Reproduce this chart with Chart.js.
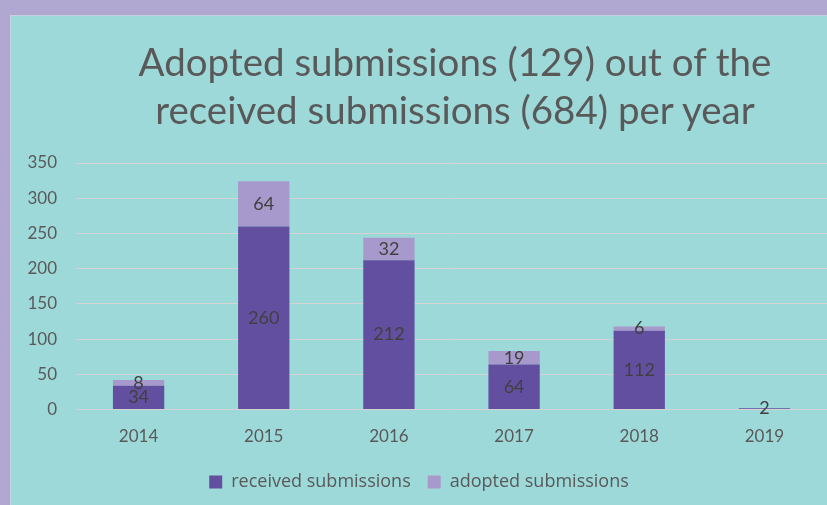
<!DOCTYPE html>
<html>
<head>
<meta charset="utf-8">
<script src="https://cdn.jsdelivr.net/npm/chart.js@4.4.1/dist/chart.umd.min.js"></script>
<style>
  html, body { margin: 0; padding: 0; background: #b1a8d1; overflow: hidden; }
  #panel {
    position: absolute; left: 10px; top: 15px; width: 817px; height: 490px;
    background: #9ed9d9; border-left: 1px solid #c8cfe0; border-top: 1px solid #c8cfe0;
  }
  #title {
    position: absolute; left: 0; top: 21px; width: 888px; text-align: center;
    font-family: Lato, "Open Sans", sans-serif; font-size: 38.5px; line-height: 48px; color: #595959;
  }
  #chart { display: block; position: absolute; left: 0; top: 0; }
</style>
</head>
<body>
<div id="panel">
  <canvas id="chart" width="817" height="490"></canvas>
  <div id="title">Adopted submissions (129) out of the<br>received submissions (684) per year</div>
</div>
<script>
var years = ['2014', '2015', '2016', '2017', '2018', '2019'];
var received = [34, 260, 212, 64, 112, 2];
var adopted = [8, 64, 32, 19, 6, 0];
var yTicks = { min: 0, max: 350, step: 50 };

// draws the value in the middle of each segment
var barLabels = {
    id: 'barLabels',
    afterDatasetsDraw: function(chart) {
        var ctx = chart.ctx;
        ctx.save();
        ctx.font = '18px Lato, "Open Sans", sans-serif';
        ctx.fillStyle = '#404040';
        ctx.textAlign = 'center';
        ctx.textBaseline = 'middle';
        chart.data.datasets.forEach(function(ds, i) {
            var meta = chart.getDatasetMeta(i);
            meta.data.forEach(function(bar, j) {
                var v = ds.data[j];
                if (!v) return;
                ctx.fillText(String(v), bar.x, (bar.y + bar.base) / 2);
            });
        });
        ctx.restore();
    }
};

new Chart(document.getElementById('chart'), {
    type: 'bar',
    data: {
        labels: years,
        datasets: [
            { label: 'received submissions', data: received, backgroundColor: '#634fa0', borderWidth: 0 },
            { label: 'adopted submissions', data: adopted, backgroundColor: '#a899cc', borderWidth: 0 }
        ]
    },
    options: {
        responsive: false,
        animation: false,
        layout: { padding: { left: 0, right: 1, top: 147, bottom: 5 } },
        datasets: { bar: { categoryPercentage: 1, barPercentage: 0.41 } },
        plugins: {
            title: { display: false },
            legend: {
                position: 'bottom',
                labels: {
                    color: '#595959', boxWidth: 13, boxHeight: 13, padding: 17,
                    font: { family: '"Open Sans", sans-serif', size: 18 }
                }
            },
            tooltip: { enabled: false }
        },
        scales: {
            x: {
                stacked: true,
                grid: { display: false },
                border: { display: false },
                ticks: { color: '#595959', padding: 9, font: { family: 'Lato, "Open Sans", sans-serif', size: 17 } }
            },
            y: {
                stacked: true,
                min: yTicks.min, max: yTicks.max,
                afterFit: function(scale) { scale.width = 65; },
                grid: { color: '#d3d3d3', lineWidth: 1, drawTicks: false },
                border: { display: false },
                ticks: { stepSize: yTicks.step, color: '#595959', padding: 19, font: { family: 'Lato, "Open Sans", sans-serif', size: 17 } }
            }
        }
    },
    plugins: [barLabels]
});
</script>
</body>
</html>
